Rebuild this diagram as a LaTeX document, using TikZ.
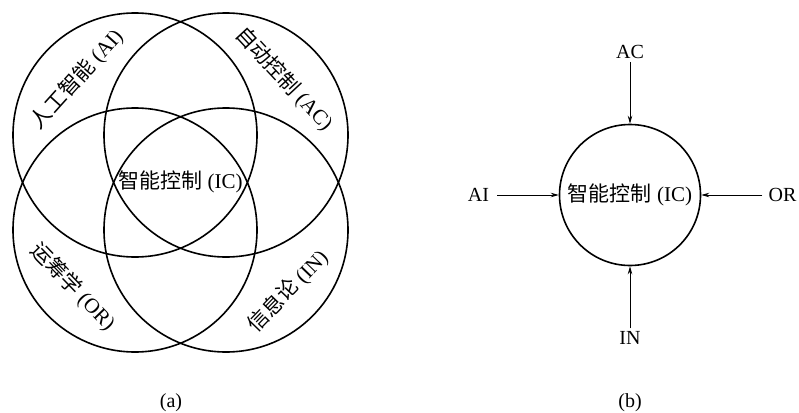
\documentclass[tikz,border=0pt]{standalone}
\usepackage{fontspec}
\setmainfont{Liberation Serif}
\newfontfamily\cjk{Noto Sans CJK SC}
\usetikzlibrary{arrows.meta}
\begin{document}
\begin{tikzpicture}[x=1pt,y=-1pt,
  ring/.style={draw, line width=1.6pt, circle, minimum size=244pt, inner sep=0pt},
  lbl/.style={font=\fontsize{21}{21}\selectfont, inner sep=0pt},
  tag/.style={font=\fontsize{20}{20}\selectfont, inner sep=2pt},
  arr/.style={-{Stealth[length=8pt,width=4.5pt]}, line width=0.8pt}]
\useasboundingbox (0,0) rectangle (799,412);
% (a) Venn-like diagram
\node[ring] (cAI) at (135,135) {};
\node[ring] (cAC) at (226,135) {};
\node[ring] (cOR) at (135,230) {};
\node[ring] (cIN) at (226,230) {};
\node[lbl, rotate=48] (tAI) at (77,79) {{\cjk 人工智能} (AI)};
\node[lbl, rotate=-47] (tAC) at (284,79) {{\cjk 自动控制} (AC)};
\node[lbl, rotate=-46] (tOR) at (73,287) {{\cjk 运筹学} (OR)};
\node[lbl, rotate=46] (tIN) at (288,291) {{\cjk 信息论} (IN)};
\node[lbl] (tIC) at (180.5,182) {{\cjk 智能控制} (IC)};
\node[lbl, font=\fontsize{20}{20}\selectfont] (capa) at (171,403) {(a)};
% (b) inputs diagram
\node[ring, minimum size=141pt, font=\fontsize{21}{21}\selectfont] (IC) at (630,195) {{\cjk 智能控制} (IC)};
\node[tag] (AC) at (630,52) {AC};
\node[tag] (IN) at (630,338) {IN};
\node[tag] (AI) at (478.5,195) {AI};
\node[tag] (OR) at (782.5,195) {OR};
\draw[arr, shorten <=1pt] (AC.south) -- (IC.north);
\draw[arr, shorten <=1pt] (IN.north) -- (IC.south);
\draw[arr, shorten <=6pt] (AI.east) -- (IC.west);
\draw[arr, shorten <=4pt] (OR.west) -- (IC.east);
\node[lbl, font=\fontsize{20}{20}\selectfont] (capb) at (630,403) {(b)};
\end{tikzpicture}
\end{document}
